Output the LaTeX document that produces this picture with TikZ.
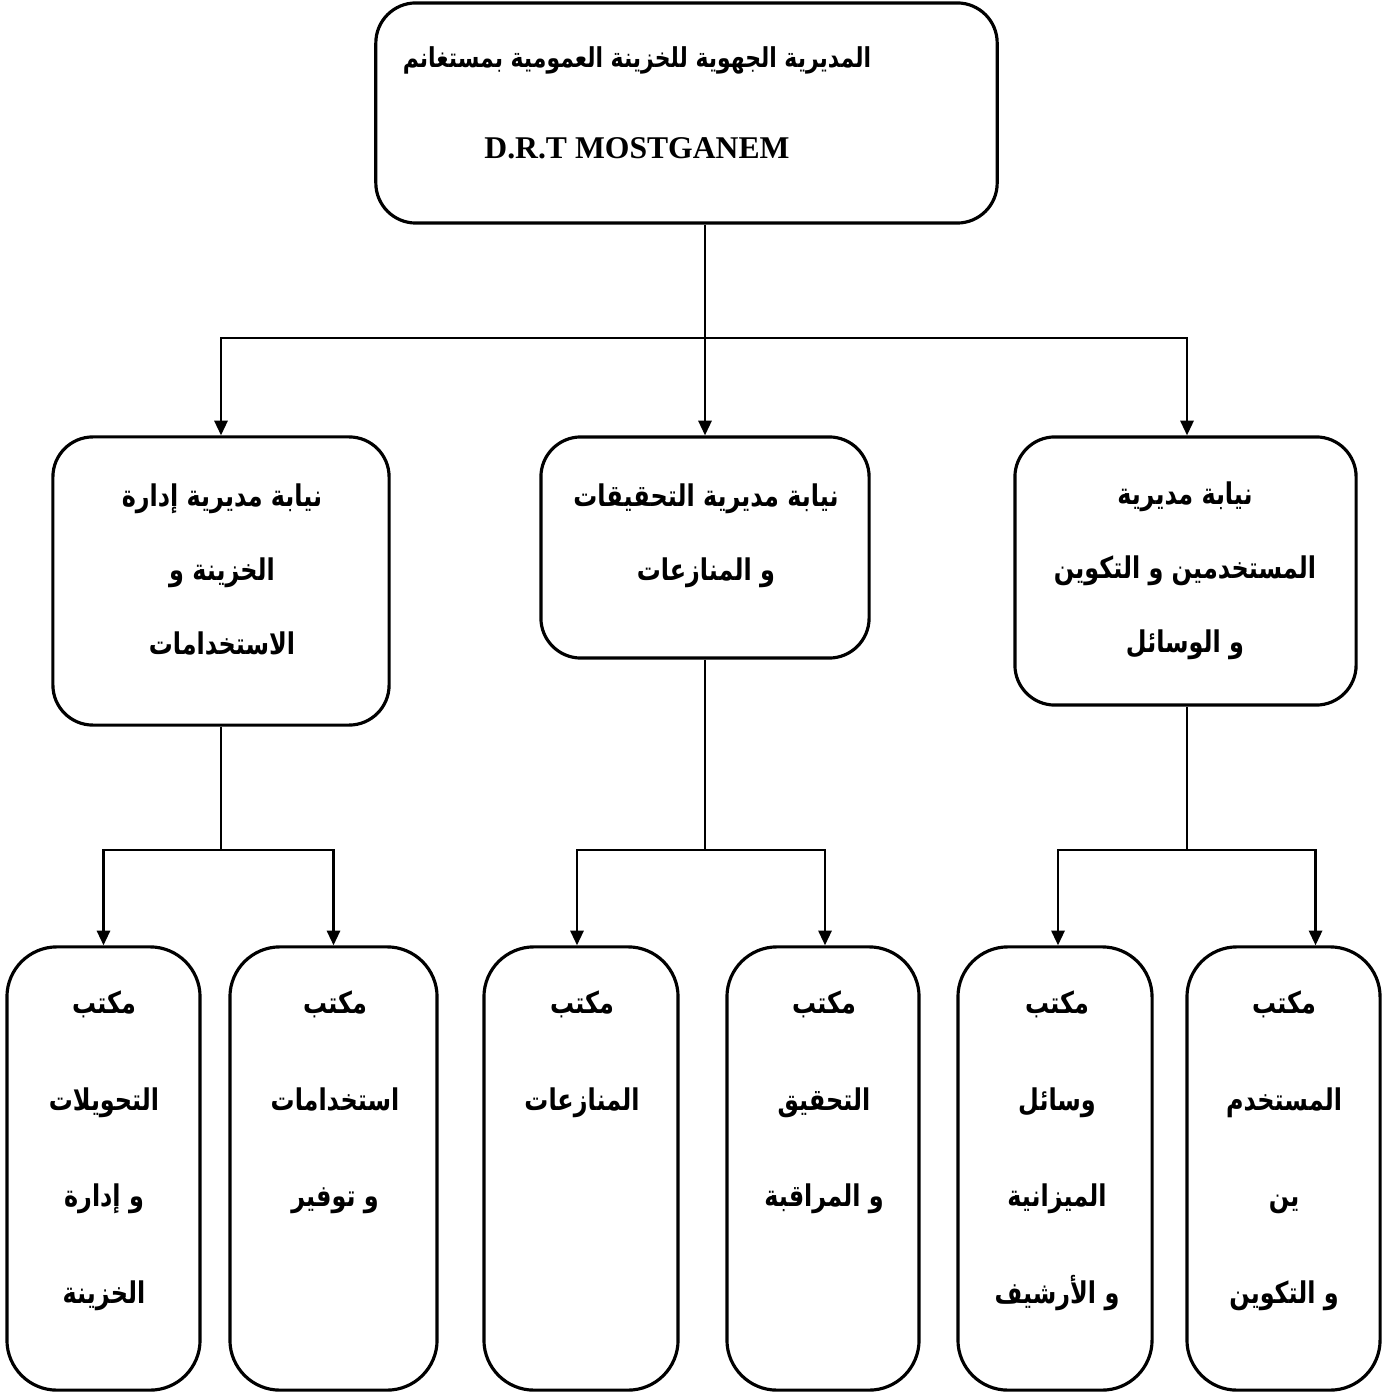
\documentclass[tikz,border=0pt]{standalone}
\usepackage{fontspec}
\setmainfont{Liberation Serif}
\newfontfamily\arabicfont[Script=Arabic,FakeStretch=0.8]{DejaVu Sans}
\TeXXeTstate=1
\newcommand{\ar}[1]{{\arabicfont\bfseries\beginR #1\endR}}
\usetikzlibrary{arrows.meta}

\begin{document}
\begin{tikzpicture}[x=0.01cm,y=-0.01cm,
    box/.style={draw, line width=0.9pt, rounded corners=0.4cm},
    office/.style={box, rounded corners=0.5cm, minimum width=1.93cm, minimum height=4.43cm},
    lbl/.style={anchor=north, align=center, inner sep=0pt, font=\fontsize{8.5}{21}\selectfont},
    olbl/.style={lbl, font=\fontsize{8.5}{27.5}\selectfont},
    link/.style={line width=0.6pt},
    arr/.style={link, -{Triangle[length=4.2pt,width=3.8pt]}}]
    \useasboundingbox (0,0) rectangle (1392,1392);
    % direction
    \node[box, minimum width=6.21cm, minimum height=2.2cm] (top) at (686.5,113) {};
    \node[lbl, font=\fontsize{9}{26}\selectfont] (toptext) at (637,46)
        {{\fontsize{7.8}{26}\selectfont\ar{المديرية الجهوية للخزينة العمومية بمستغانم}}\\ \textbf{D.R.T MOSTGANEM}};
    % sous-directions
    \node[box, minimum width=3.36cm, minimum height=2.88cm] (m1) at (221,581) {};
    \node[box, minimum width=3.28cm, minimum height=2.21cm] (m2) at (705,547.5) {};
    \node[box, minimum width=3.41cm, minimum height=2.68cm] (m3) at (1185.5,571) {};
    \node[lbl] (m1text) at (222,483) {\ar{نيابة مديرية إدارة}\\ \ar{الخزينة و}\\ \ar{الاستخدامات}};
    \node[lbl] (m2text) at (706,483) {\ar{نيابة مديرية التحقيقات}\\ \ar{و المنازعات}};
    \node[lbl] (m3text) at (1185,481) {\ar{نيابة مديرية}\\ \ar{المستخدمين و التكوين}\\ \ar{و الوسائل}};
    % bureaux
    \node[office] (b1) at (103.5,1168.5) {};
    \node[office, minimum width=2.07cm] (b2) at (333.5,1168.5) {};
    \node[office, minimum width=1.94cm] (b3) at (581,1168.5) {};
    \node[office, minimum width=1.92cm] (b4) at (823,1168.5) {};
    \node[office, minimum width=1.94cm] (b5) at (1055,1168.5) {};
    \node[office] (b6) at (1283.5,1168.5) {};
    \node[olbl] (b1text) at (104,990) {\ar{مكتب}\\ \ar{التحويلات}\\ \ar{و إدارة}\\ \ar{الخزينة}};
    \node[olbl] (b2text) at (335,990) {\ar{مكتب}\\ \ar{استخدامات}\\ \ar{و توفير}};
    \node[olbl] (b3text) at (582,990) {\ar{مكتب}\\ \ar{المنازعات}};
    \node[olbl] (b4text) at (824,990) {\ar{مكتب}\\ \ar{التحقيق}\\ \ar{و المراقبة}};
    \node[olbl] (b5text) at (1057,990) {\ar{مكتب}\\ \ar{وسائل}\\ \ar{الميزانية}\\ \ar{و الأرشيف}};
    \node[olbl] (b6text) at (1284,990) {\ar{مكتب}\\ \ar{المستخدم}\\ \ar{ين}\\ \ar{و التكوين}};
    % links
    \coordinate (bus0) at (705,338);
    \coordinate (bus1) at (221,850);
    \coordinate (bus2) at (705,850);
    \coordinate (bus3) at (1187,850);
    \draw[link] (top.south -| bus0) -- (bus0);
    \draw[arr] (bus0) -| (m1);
    \draw[arr] (bus0) -- (m2);
    \draw[arr] (bus0) -| ([xshift=0.015cm]m3.north);
    \draw[link] (m1) -- (bus1);
    \draw[link] (m2) -- (bus2);
    \draw[link] (m3.south -| bus3) -- (bus3);
    \draw[arr] (bus1) -| (b1);
    \draw[arr] (bus1) -| (b2);
    \draw[arr] (bus2) -| ([xshift=-0.04cm]b3.north);
    \draw[arr] (bus2) -| ([xshift=0.02cm]b4.north);
    \draw[arr] (bus3) -| ([xshift=0.03cm]b5.north);
    \draw[arr] (bus3) -| ([xshift=0.32cm]b6.north);
\end{tikzpicture}
\end{document}
